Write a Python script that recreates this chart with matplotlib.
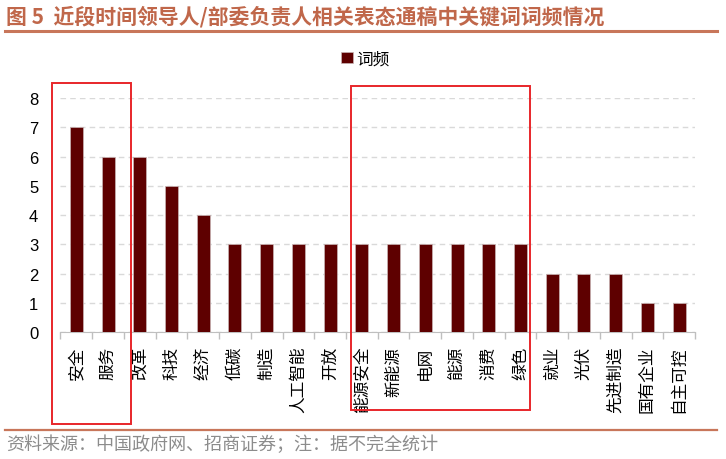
import matplotlib
matplotlib.use("Agg")
import matplotlib.pyplot as plt
from matplotlib.patches import Rectangle
from matplotlib.lines import Line2D
from matplotlib.transforms import blended_transform_factory

plt.rcParams['font.family'] = ['Noto Sans CJK SC', 'DejaVu Sans']

# 数据
keywords = ["安全", "服务", "改革", "科技", "经济", "低碳", "制造", "人工智能", "开放",
            "能源安全", "新能源", "电网", "能源", "消费", "绿色",
            "就业", "光伏", "先进制造", "国有企业", "自主可控"]
freq = [7, 6, 6, 5, 4, 3, 3, 3, 3, 3, 3, 3, 3, 3, 3, 2, 2, 2, 1, 1]
yticks = [0, 1, 2, 3, 4, 5, 6, 7, 8]

# 红框标出的关键词组（首末索引）
highlight_groups = [(0, 1), (9, 14)]

title_color = "#C0674A"
line_color = "#C8765A"
bar_color = "#5E0000"

fig = plt.figure(figsize=(7.26, 4.6), dpi=100)
ax = fig.add_axes([0.0833, 0.276, 0.874, 0.5087])

x = list(range(len(keywords)))
ax.bar(x, freq, width=0.41, color=bar_color, edgecolor="#c9b5b5", linewidth=0.5,
       label="词频", zorder=3)

ax.set_ylim(0, 8)
ax.set_xlim(-0.5, len(keywords) - 0.5)
ax.set_yticks(yticks)
ax.set_yticklabels([str(v) for v in yticks], fontsize=12, family=['Liberation Sans'])
ax.tick_params(axis='y', length=0, pad=16)
ax.grid(axis='y', color="#D9D9D9", linestyle=(0, (4, 3)), linewidth=1, zorder=0)

ax.set_xticks(x)
ax.set_xticklabels(keywords, rotation=90, fontsize=12, va='top', ha='center')
ax.tick_params(axis='x', which='major', length=0, pad=10)
ax.set_xticks([i - 0.5 for i in range(len(keywords) + 1)], minor=True)
ax.tick_params(axis='x', which='minor', length=5, color="#BFBFBF", width=1)

for s in ['top', 'right', 'left']:
    ax.spines[s].set_visible(False)
ax.spines['bottom'].set_color("#BFBFBF")

# 红框（x 用类别位置，y 用画布比例）
tr = blended_transform_factory(ax.transData, fig.transFigure)
box_pad = [(0.77, 0.72), (0.35, 0.29)]
box_y = [(0.076, 0.817), (0.1065, 0.811)]
for (i0, i1), (pl, pr), (yb, yt) in zip(highlight_groups, box_pad, box_y):
    x0, x1 = i0 - pl, i1 + pr
    ax.add_patch(Rectangle((x0, yb), x1 - x0, yt - yb, transform=tr, fill=False,
                           edgecolor="#E8262A", linewidth=1.4, clip_on=False, zorder=5))

fig.legend(loc='center', bbox_to_anchor=(0.503, 0.87), frameon=False, fontsize=12,
           handlelength=0.7, handleheight=0.7, handletextpad=0.2)

# 标题与来源
fig.text(0.008, 1 - 17 / 460, "图 5  近段时间领导人/部委负责人相关表态通稿中关键词词频情况",
         fontsize=15, fontweight='bold', color=title_color, va='center', ha='left')
fig.add_artist(Line2D([5 / 726, 717 / 726], [1 - 32 / 460] * 2, color=line_color, linewidth=2.2))
fig.add_artist(Line2D([5 / 726, 717 / 726], [1 - 431 / 460] * 2, color=line_color, linewidth=1.6))
fig.text(0.009, 1 - 445 / 460, "资料来源：中国政府网、招商证券；注：据不完全统计",
         fontsize=13, color="#8C8C8C", va='center', ha='left')

fig.savefig("out.png", dpi=100)
